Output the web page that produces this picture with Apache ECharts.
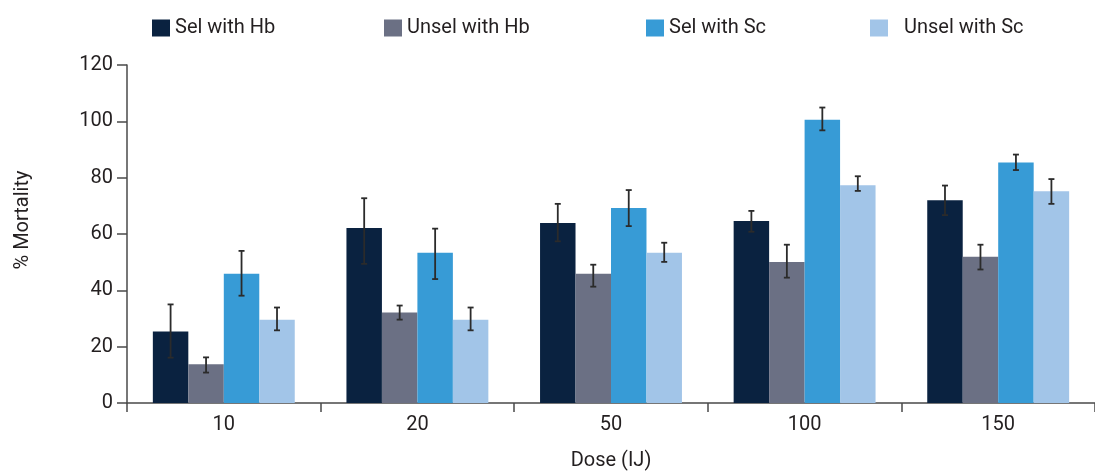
<!DOCTYPE html>
<html>
<head>
<meta charset="utf-8">
<script src="https://cdn.jsdelivr.net/npm/echarts@6/dist/echarts.min.js"></script>
<style>html,body{margin:0;padding:0;background:#fff}#c{width:1095px;height:476px}</style>
</head>
<body>
<div id="c"></div>
<script>
const categories = ['10', '20', '50', '100', '150'];
const seriesNames = ['Sel with Hb', 'Unsel with Hb', 'Sel with Sc', 'Unsel with Sc'];
const selHb = [25.4, 62.1, 63.9, 64.6, 72.0];
const unselHb = [13.8, 32.1, 45.9, 50.1, 51.9];
const selSc = [45.9, 53.3, 69.2, 100.6, 85.4];
const unselSc = [29.6, 29.6, 53.3, 77.3, 75.2];
// error bar ends (low, high)
const selHbLow = [16.1, 49.4, 57.4, 60.8, 66.7];
const selHbHigh = [35.0, 72.7, 70.7, 68.2, 77.2];
const unselHbLow = [10.8, 29.6, 41.3, 44.5, 47.4];
const unselHbHigh = [16.2, 34.6, 49.1, 56.2, 56.2];
const selScLow = [38.1, 44.0, 62.8, 96.8, 82.7];
const selScHigh = [54.0, 61.9, 75.6, 104.9, 88.2];
const unselScLow = [25.8, 25.8, 50.1, 75.3, 70.7];
const unselScHigh = [33.9, 33.9, 56.9, 80.5, 79.5];
const yTicks = [0, 20, 40, 60, 80, 100, 120];

const colors = ['#0a2240', '#6b7084', '#379bd6', '#a2c5e8'];
const values = [selHb, unselHb, selSc, unselSc];
const lows = [selHbLow, unselHbLow, selScLow, unselScLow];
const highs = [selHbHigh, unselHbHigh, selScHigh, unselScHigh];
const GAP = 0.267;
const FONT = 'Roboto';
const TXT = '#231f20';

const chart = echarts.init(document.getElementById('c'));

const barSeries = seriesNames.map((n, k) => ({
  name: n,
  type: 'bar',
  data: values[k],
  barGap: '0%',
  barCategoryGap: (GAP * 100) + '%',
  itemStyle: { color: colors[k] },
  z: 2
}));

const errSeries = seriesNames.map((n, k) => ({
  type: 'custom',
  name: n + ' err',
  data: categories.map((c, i) => [i, lows[k][i], highs[k][i]]),
  encode: { x: 0, y: [1, 2] },
  z: 5,
  silent: true,
  renderItem: function (params, api) {
    const ci = api.value(0);
    const bandW = api.size([1, 0])[0];
    const barW = bandW * (1 - GAP) / 4;
    const cx = api.coord([ci, 0])[0] + (k - 1.5) * barW;
    const yl = api.coord([ci, api.value(1)])[1];
    const yh = api.coord([ci, api.value(2)])[1];
    const cap = 3;
    const st = { stroke: '#2b2b2b', lineWidth: 1.8 };
    return {
      type: 'group',
      children: [
        { type: 'line', shape: { x1: cx, y1: yl, x2: cx, y2: yh }, style: st },
        { type: 'line', shape: { x1: cx - cap, y1: yl, x2: cx + cap, y2: yl }, style: st },
        { type: 'line', shape: { x1: cx - cap, y1: yh, x2: cx + cap, y2: yh }, style: st }
      ]
    };
  }
}));

const legendLefts = [147, 379, 641, 865];
const legendPad = [0, 0, 0, 11];
const legends = seriesNames.map((n, k) => ({
  data: [n],
  left: legendLefts[k],
  top: 13,
  itemWidth: 18,
  itemHeight: 17,
  icon: 'rect',
  itemGap: 0,
  selectedMode: false,
  textStyle: {
    fontFamily: FONT, fontSize: 20, color: TXT,
    padding: [0, 0, 0, legendPad[k]]
  }
}));

chart.setOption({
  animation: false,
  backgroundColor: '#fff',
  legend: legends,
  grid: { left: 127, top: 65, width: 973, bottom: 72, containLabel: false },
  xAxis: {
    type: 'category',
    data: categories,
    name: 'Dose (IJ)',
    nameLocation: 'middle',
    nameGap: 48,
    nameTextStyle: { fontFamily: FONT, fontSize: 20, color: TXT },
    axisLine: { lineStyle: { color: '#4a4a4a', width: 1.5 } },
    axisTick: { show: true, length: 9, lineStyle: { color: '#4a4a4a', width: 1.5 } },
    axisLabel: { fontFamily: FONT, fontSize: 20, color: TXT, margin: 12 }
  },
  yAxis: {
    type: 'value',
    min: 0, max: 120, interval: 20,
    name: '% Mortality',
    nameLocation: 'middle',
    nameGap: 94,
    nameTextStyle: { fontFamily: FONT, fontSize: 20, color: TXT, padding: [0, 0, 0, 28] },
    axisLine: { show: true, lineStyle: { color: '#4a4a4a', width: 1.5 } },
    axisTick: { show: true, length: 10, lineStyle: { color: '#4a4a4a', width: 1.5 } },
    splitLine: { show: false },
    axisLabel: {
      fontFamily: FONT, fontSize: 20, color: TXT, margin: 14,
      formatter: v => yTicks.includes(v) ? String(v) : ''
    }
  },
  series: barSeries.concat(errSeries)
});
</script>
</body>
</html>
